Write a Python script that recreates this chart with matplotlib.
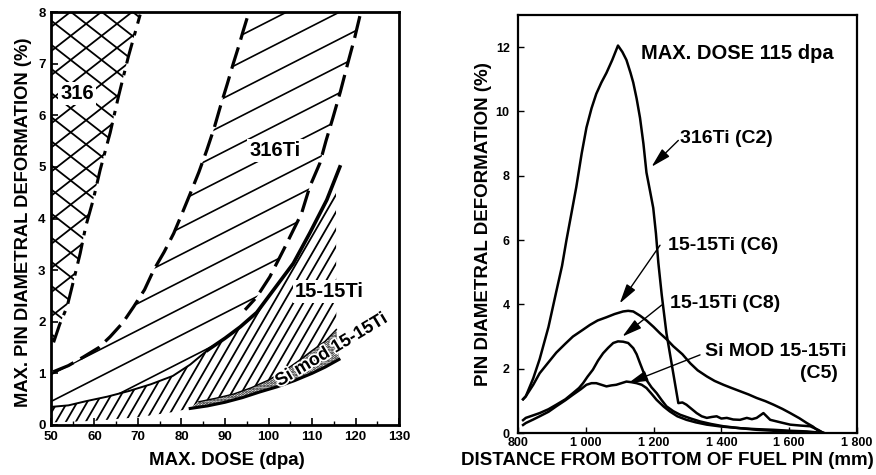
import numpy as np
import matplotlib
matplotlib.use("Agg")
import matplotlib.pyplot as plt
from matplotlib.patches import Polygon
from matplotlib.collections import LineCollection
import matplotlib.patheffects as pe

plt.rcParams['font.family'] = ['Liberation Sans', 'DejaVu Sans']
plt.rcParams['font.weight'] = 'bold'
plt.rcParams['hatch.linewidth'] = 1.4

# ---- left panel: band boundaries (dose dpa, deformation %) ----
x316 = [50.6, 52.0, 53.7, 55.2, 56.7, 58.0, 59.7, 61.3, 63.6, 65.5, 67.8, 69.5, 70.5]
y316 = [1.6, 1.95, 2.29, 2.8, 3.32, 3.85, 4.36, 4.94, 5.66, 6.36, 7.14, 7.65, 7.95]

x316ti_lo = [50.5, 54, 57.5, 61, 63.6, 66.5, 69, 71.5, 73.6, 76, 78.2, 80, 82, 84, 85.8, 87.5, 88.9, 90.5, 91.9, 93.2, 94.2, 95.4]
y316ti_lo = [1.03, 1.15, 1.32, 1.5, 1.71, 1.98, 2.29, 2.62, 3.0, 3.35, 3.71, 4.07, 4.48, 4.9, 5.32, 5.75, 6.16, 6.6, 7.0, 7.35, 7.64, 7.97]
x316ti_hi = [121, 119.8, 118.2, 116.5, 114.8, 113.2, 111.8, 109.5, 107.6, 103.8, 100.3, 97.3, 94.6]
y316ti_hi = [7.92, 7.5, 7.0, 6.45, 5.95, 5.5, 5.07, 4.62, 4.1, 3.45, 2.87, 2.48, 2.23]

x1515_top = [50, 54, 58, 63, 68, 73, 78, 82, 86, 90, 93.5, 97.3, 101.1, 105.7, 109.5, 113.4, 116.4]
y1515_top = [0.35, 0.38, 0.46, 0.55, 0.66, 0.79, 0.95, 1.17, 1.45, 1.68, 1.9, 2.18, 2.61, 3.13, 3.72, 4.36, 5.0]
x1515_bot = [50, 60, 70, 78, 82]
y1515_bot = [0.05, 0.08, 0.15, 0.25, 0.32]

xsi_lo = [82, 86, 90, 94, 98, 102, 106, 110, 113, 116.2]
ysi_lo = [0.32, 0.37, 0.44, 0.53, 0.64, 0.74, 0.86, 1.0, 1.12, 1.27]
xsi_hi = [84, 88, 92, 96, 100, 104, 107.2, 110, 113, 115.6]
ysi_hi = [0.45, 0.52, 0.6, 0.72, 0.87, 1.07, 1.26, 1.44, 1.62, 1.85]

# ---- right panel: profiles along the pin (mm, %) ----
x_c2 = [815, 823, 845, 864, 890, 913, 930, 943, 958, 972, 988, 1002, 1017, 1031, 1046, 1061, 1078, 1095, 1108,
        1120, 1132, 1140, 1150, 1160, 1170, 1179, 1190, 1199, 1207, 1214, 1224, 1238, 1258, 1273, 1285, 1297,
        1312, 1327, 1342, 1357, 1372, 1386, 1400, 1416, 1435, 1455, 1475, 1490, 1504, 1524, 1544, 1575, 1603,
        1635, 1662, 1685, 1701]
y_c2 = [1.05, 1.14, 1.7, 2.3, 3.3, 4.4, 5.2, 6.0, 6.85, 7.65, 8.7, 9.5, 10.1, 10.55, 10.9, 11.2, 11.6, 12.05, 11.85,
        11.6, 11.2, 10.9, 10.4, 9.8, 9.0, 8.1, 7.5, 7.0, 6.2, 5.3, 4.3, 3.1, 1.86, 0.93, 0.95, 0.88,
        0.75, 0.62, 0.52, 0.47, 0.5, 0.52, 0.45, 0.47, 0.42, 0.41, 0.47, 0.43, 0.47, 0.62, 0.41, 0.33, 0.26,
        0.23, 0.21, 0.1, 0.0]
x_c6 = [815, 823, 845, 864, 890, 913, 940, 962, 990, 1012, 1035, 1061, 1085, 1110, 1125, 1140, 1160, 1179, 1200,
        1219, 1240, 1258, 1285, 1308, 1330, 1357, 1380, 1406, 1430, 1455, 1480, 1504, 1530, 1554, 1580, 1603,
        1630, 1652, 1670, 1682, 1701]
y_c6 = [1.05, 1.14, 1.5, 1.86, 2.2, 2.5, 2.78, 3.0, 3.2, 3.36, 3.5, 3.6, 3.7, 3.78, 3.8, 3.78, 3.65, 3.5, 3.3,
        3.1, 2.9, 2.7, 2.45, 2.17, 1.95, 1.76, 1.62, 1.5, 1.4, 1.3, 1.2, 1.09, 0.99, 0.88, 0.75, 0.62,
        0.46, 0.31, 0.2, 0.1, 0.0]
x_c8 = [815, 823, 845, 864, 890, 913, 940, 962, 980, 992, 1005, 1021, 1036, 1051, 1066, 1081, 1095, 1110, 1125,
        1140, 1150, 1160, 1170, 1179, 1194, 1209, 1224, 1238, 1258, 1278, 1310, 1337, 1370, 1406, 1455, 1504,
        1554, 1603, 1650, 1701]
y_c8 = [0.4, 0.47, 0.55, 0.62, 0.74, 0.88, 1.05, 1.24, 1.4, 1.55, 1.75, 1.97, 2.25, 2.48, 2.65, 2.8, 2.85, 2.84,
        2.8, 2.64, 2.45, 2.17, 1.9, 1.65, 1.42, 1.24, 1.02, 0.83, 0.68, 0.57, 0.45, 0.36, 0.28, 0.21, 0.15,
        0.1, 0.07, 0.05, 0.02, 0.0]
x_c5 = [815, 823, 845, 864, 890, 913, 940, 962, 985, 1002, 1017, 1031, 1046, 1061, 1075, 1090, 1105, 1120, 1135,
        1150, 1165, 1179, 1194, 1209, 1230, 1248, 1270, 1297, 1325, 1357, 1400, 1455, 1504, 1554, 1603, 1652, 1701]
y_c5 = [0.25, 0.31, 0.42, 0.52, 0.66, 0.83, 1.02, 1.19, 1.36, 1.5, 1.55, 1.55, 1.5, 1.45, 1.48, 1.5, 1.55, 1.6,
        1.58, 1.55, 1.5, 1.4, 1.22, 1.03, 0.82, 0.67, 0.52, 0.41, 0.33, 0.26, 0.2, 0.15, 0.12, 0.1, 0.07, 0.05, 0.0]


def hatch(ax, xs, ys, angle, spacing, lw=1.1):
    # custom-angle hatching clipped to a data polygon
    poly = Polygon(np.column_stack([xs, ys]), closed=True, fill=False, edgecolor='none')
    ax.add_patch(poly)
    bb = ax.get_window_extent()
    w, h = bb.width, bb.height
    t = np.radians(angle)
    d = np.array([np.cos(t), np.sin(t)])
    n = np.array([-np.sin(t), np.cos(t)])
    L = np.hypot(w, h)
    segs = []
    for k in np.arange(-L, L, spacing):
        c = np.array([w / 2, h / 2]) + k * n
        p0, p1 = c - L * d, c + L * d
        segs.append([(p0[0] / w, p0[1] / h), (p1[0] / w, p1[1] / h)])
    lc = LineCollection(segs, colors='k', linewidths=lw, transform=ax.transAxes)
    ax.add_collection(lc, autolim=False)
    lc.set_clip_path(poly)


fig = plt.figure(figsize=(8.76, 4.75), dpi=100)
ax1 = fig.add_axes([0.0582, 0.1053, 0.3973, 0.8694])
ax2 = fig.add_axes([0.5913, 0.0884, 0.387, 0.88])

# ---------------- left panel ----------------
ax1.set_xlim(50, 130)
ax1.set_ylim(0, 8)

# 316 band
hatch(ax1, [50] + x316 + [70.7, 50], [1.6] + y316 + [8, 8], 38, 19, 1.3)
hatch(ax1, [50] + x316 + [70.7, 50], [1.6] + y316 + [8, 8], -38, 19, 1.3)
ax1.plot(x316, y316, color='k', lw=2.2, ls=(0, (7, 2.5, 1.5, 2.5)))

# 316Ti band
px = x316ti_lo + [95.6, 121.2] + x316ti_hi + x1515_top[:11][::-1] + [50]
py = y316ti_lo + [8, 8] + y316ti_hi + y1515_top[:11][::-1] + [1.03]
hatch(ax1, px, py, 27, 24, 1.2)
ax1.plot(x316ti_lo, y316ti_lo, color='k', lw=2.3, ls=(0, (7, 2.5)))
ax1.plot(x316ti_hi, y316ti_hi, color='k', lw=2.3, ls=(0, (7, 2.5)))

# 15-15Ti band
px = x1515_top + [115.5] + xsi_hi[::-1] + x1515_bot[::-1]
py = y1515_top + [4.7] + ysi_hi[::-1] + y1515_bot[::-1]
hatch(ax1, px, py, 60, 8.6, 1.3)
ax1.plot(x1515_top, y1515_top, color='k', lw=1.4)
ax1.plot(x1515_top[8:], y1515_top[8:], color='k', lw=2.6)

# Si mod 15-15Ti band
ax1.fill(xsi_lo + xsi_hi[::-1], ysi_lo + ysi_hi[::-1], facecolor='white',
         edgecolor='k', linewidth=0, hatch='......', zorder=2)
ax1.plot(xsi_lo, ysi_lo, color='k', lw=2.2, zorder=3)
ax1.plot(xsi_hi, ysi_hi, color='k', lw=1.0, zorder=3)

box = dict(facecolor='white', edgecolor='none', pad=1.5)
ax1.text(56, 6.42, '316', fontsize=14.5, fontweight='bold', ha='center', va='center', bbox=box, zorder=5)
ax1.text(101.5, 5.32, '316Ti', fontsize=14.5, fontweight='bold', ha='center', va='center', bbox=box, zorder=5)
ax1.text(113.9, 2.58, '15-15Ti', fontsize=14.5, fontweight='bold', ha='center', va='center', bbox=box, zorder=5)
ax1.text(114.5, 1.45, 'Si mod 15-15Ti', fontsize=13, fontweight='bold', ha='center', va='center',
         rotation=31, zorder=5, path_effects=[pe.withStroke(linewidth=2.5, foreground='white')])

ax1.set_xticks(range(50, 131, 10))
ax1.set_xticks(range(55, 131, 10), minor=True)
ax1.set_yticks(range(0, 9))
ax1.tick_params(direction='in', length=5, width=1.2, labelsize=9.5, pad=4)
ax1.tick_params(which='minor', direction='in', length=3, width=1.0)
for lab in ax1.get_xticklabels() + ax1.get_yticklabels():
    lab.set_fontweight('bold')
for s in ax1.spines.values():
    s.set_linewidth(2.0)
ax1.set_xlabel('MAX. DOSE (dpa)', fontsize=13.5, fontweight='bold')
ax1.set_ylabel('MAX. PIN DIAMETRAL DEFORMATION (%)', fontsize=13.2, fontweight='bold')
ax1.xaxis.set_label_coords(0.506, -0.066)
ax1.yaxis.set_label_coords(-0.055, 0.49)

# ---------------- right panel ----------------
ax2.set_xlim(800, 1800)
ax2.set_ylim(0, 13)
for xs, ys in [(x_c2, y_c2), (x_c6, y_c6), (x_c8, y_c8), (x_c5, y_c5)]:
    ax2.plot(xs, ys, color='k', lw=1.8)

ax2.text(1164, 11.8, 'MAX. DOSE 115 dpa', fontsize=14.5, fontweight='bold', va='center')
arrow = dict(arrowstyle='-|>,head_length=1.2,head_width=0.32', color='k', lw=1.0, shrinkA=0, shrinkB=0)
ax2.text(1278, 9.15, '316Ti (C2)', fontsize=14, fontweight='bold', va='center')
ax2.annotate('', xy=(1194, 8.28), xytext=(1273, 9.1), arrowprops=arrow)
ax2.text(1243, 5.84, '15-15Ti (C6)', fontsize=14, fontweight='bold', va='center')
ax2.annotate('', xy=(1100, 4.03), xytext=(1219, 5.84), arrowprops=arrow)
ax2.text(1248, 4.03, '15-15Ti (C8)', fontsize=14, fontweight='bold', va='center')
ax2.annotate('', xy=(1108, 3.0), xytext=(1224, 3.98), arrowprops=arrow)
ax2.text(1352, 2.53, 'Si MOD 15-15Ti', fontsize=14, fontweight='bold', va='center')
ax2.text(1632, 1.86, '(C5)', fontsize=14, fontweight='bold', va='center')
ax2.annotate('', xy=(1125, 1.55), xytext=(1337, 2.43), arrowprops=arrow)

ax2.set_xticks([800, 1000, 1200, 1400, 1600, 1800])
ax2.set_xticklabels(['800', '1 000', '1 200', '1 400', '1 600', '1 800'])
ax2.set_yticks(range(0, 13, 2))
ax2.tick_params(direction='in', length=4, width=1.0, labelsize=9, pad=3)
ax2.tick_params(axis='y', pad=6)
for lab in ax2.get_xticklabels() + ax2.get_yticklabels():
    lab.set_fontweight('bold')
for s in ax2.spines.values():
    s.set_linewidth(1.6)
ax2.set_xlabel('DISTANCE FROM BOTTOM OF FUEL PIN (mm)', fontsize=13.5, fontweight='bold')
ax2.set_ylabel('PIN DIAMETRAL DEFORMATION (%)', fontsize=13.5, fontweight='bold')
ax2.xaxis.set_label_coords(0.442, -0.045)
ax2.yaxis.set_label_coords(-0.077, 0.5)

fig.savefig('out.png', dpi=100)
